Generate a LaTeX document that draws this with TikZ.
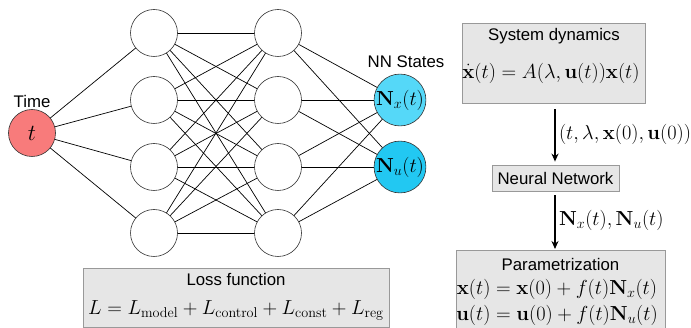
\RequirePackage{fix-cm}
\documentclass[tikz,border=0pt]{standalone}
\usepackage{amsmath}
\usepackage[no-math]{fontspec}
\setmainfont{Liberation Sans}
\usetikzlibrary{arrows.meta}
\definecolor{tred}{HTML}{F87B7B}
\definecolor{nxc}{HTML}{55D8F8}
\definecolor{nuc}{HTML}{22C8F2}
\definecolor{boxfill}{HTML}{E6E6E6}
\definecolor{boxdraw}{HTML}{999999}
\tikzset{
  neuron/.style={circle,draw=black!80,line width=0.6pt,fill=white,minimum size=47pt,inner sep=0pt},
  conn/.style={line width=0.7pt,black},
  infobox/.style={draw=boxdraw,fill=boxfill,line width=0.8pt},
  lbl/.style={inner sep=0pt,anchor=center},
  mth/.style={font=\fontsize{20.3}{23}\selectfont},
  flow/.style={line width=2pt,-{Stealth[length=8pt,width=7pt]}}
}
\begin{document}
\begin{tikzpicture}[x=1pt,y=-1pt,font=\fontsize{16.8}{19}\selectfont]
\useasboundingbox (0,0) rectangle (691,328);
% connections
\coordinate (ip) at (32,133);
\foreach \j/\y in {1/33,2/100,3/167,4/233}{
  \coordinate (a\j) at (154,\y);
  \coordinate (b\j) at (278,\y);
}
\coordinate (ox) at (400,100);
\coordinate (ou) at (400,167);
\foreach \j in {1,...,4}{
  \draw[conn] (ip) -- (a\j);
  \draw[conn] (b\j) -- (ox);
  \draw[conn] (b\j) -- (ou);
  \foreach \k in {1,...,4}{\draw[conn] (a\j) -- (b\k);}
}
% neurons
\node[neuron,fill=tred,font=\fontsize{23}{23}\selectfont] (t) at (ip) {$t$};
\foreach \j in {1,...,4}{
  \node[neuron] (na\j) at (a\j) {};
  \node[neuron] (nb\j) at (b\j) {};
}
\node[neuron,fill=nxc,mth] (nx) at (ox) {$\mathbf{N}_x(t)$};
\node[neuron,fill=nuc,mth] (nu) at (ou) {$\mathbf{N}_u(t)$};
\node[lbl] (time) at (32,101) {Time};
\node[lbl] (nns) at (406,62) {NN States};
% loss box
\draw[infobox] (83,268) rectangle (389,327.5);
\node[lbl] (losst) at (236,279) {Loss function};
\node[lbl,mth] (losse) at (236,310) {$L=L_{\mathrm{model}}+L_{\mathrm{control}}+L_{\mathrm{const}}+L_{\mathrm{reg}}$};
% system dynamics
\node[infobox,minimum width=183pt,minimum height=80pt] (sys) at (553.5,63) {};
\node[lbl] at (554,36) {System dynamics};
\node[lbl,mth] at (551,73) {$\dot{\mathbf{x}}(t)=A(\lambda,\mathbf{u}(t))\mathbf{x}(t)$};
% neural network
\node[infobox,minimum width=127pt,minimum height=26pt,inner sep=0pt] (nn) at (555.5,178) {Neural Network};
% parametrization
\draw[infobox] (456,250) rectangle (665,335);
\coordinate (par) at (555,250);
\node[lbl] at (560.5,264) {Parametrization};
\node[lbl,mth] at (557,289) {$\mathbf{x}(t)=\mathbf{x}(0)+f(t)\mathbf{N}_x(t)$};
\node[lbl,mth] at (557,315) {$\mathbf{u}(t)=\mathbf{u}(0)+f(t)\mathbf{N}_u(t)$};
% arrows
\draw[flow,shorten <=6pt,shorten >=3pt] (sys.south-|555,0) -- (nn.north-|555,0)
  node[midway,right=3pt,inner sep=0pt,mth] {$(t,\lambda,\mathbf{x}(0),\mathbf{u}(0))$};
\draw[flow,shorten <=4pt,shorten >=1pt] (nn.south-|555,0) -- (par)
  node[midway,right=3pt,inner sep=0pt,mth] {$\mathbf{N}_x(t),\mathbf{N}_u(t)$};
\end{tikzpicture}
\end{document}
